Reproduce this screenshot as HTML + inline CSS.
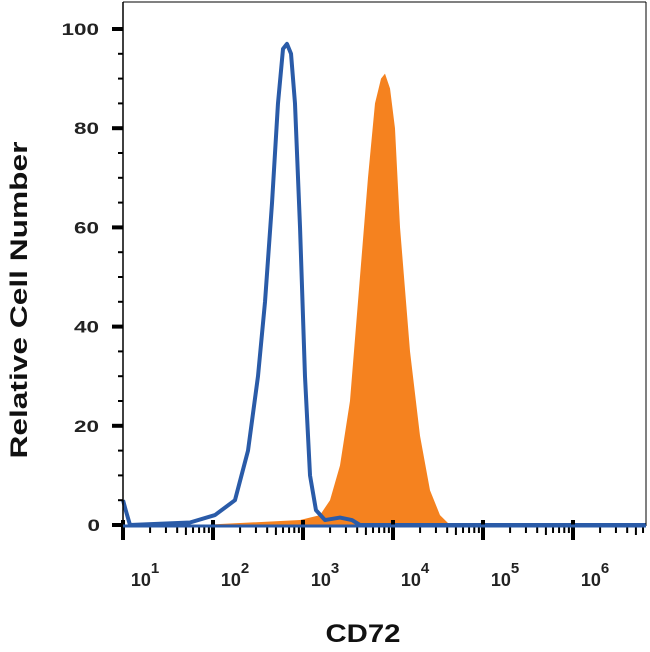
<!DOCTYPE html>
<html><head><meta charset="utf-8"><style>
body{margin:0;background:#fff;}
svg{display:block;font-family:"Liberation Sans",sans-serif;font-weight:bold;}
</style></head><body>
<svg id="c" width="650" height="652"></svg>
<script>
const blueX=[1.0,1.03,1.078,1.744,2.022,2.244,2.389,2.5,2.578,2.656,2.722,2.778,2.822,2.867,2.911,2.967,3.022,3.078,3.144,3.244,3.411,3.544,3.633,6.81];
const blueY=[5,3,0,0.5,2,5,15,30,45,65,85,96,97,95,85,60,30,10,3,1,1.5,1,0,0];
const orangeX=[1.856,2.967,3.189,3.3,3.411,3.522,3.633,3.722,3.8,3.867,3.911,3.967,4.022,4.078,4.189,4.3,4.411,4.522,4.633];
const orangeY=[0,1,2,5,12,25,50,70,85,90,91,88,80,60,35,18,7,2,0];
const yTicks=[0,20,40,60,80,100];
const xDecades=[1,2,3,4,5,6];
const NS='http://www.w3.org/2000/svg';
const svg=document.getElementById('c');
const X0=123,DEC=90,Y0=525,YS=4.96;
const sx=l=>X0+(l-1)*DEC, sy=v=>Y0-v*YS;
function mk(t,a,name){const e=document.createElementNS(NS,t);for(const k in a)e.setAttribute(k,a[k]);


svg.appendChild(e);return e;}
let d='M'+sx(orangeX[0])+','+sy(0);
orangeX.forEach((x,i)=>d+=' L'+sx(x)+','+sy(orangeY[i]));
d+=' L'+sx(orangeX[orangeX.length-1])+','+sy(0)+'Z';
mk('path',{d:d,fill:'#f5821f'},'cd72-stained-histogram');
let b='';blueX.forEach((x,i)=>b+=(i?' L':'M')+sx(x)+','+sy(blueY[i]));
mk('path',{d:b,fill:'none',stroke:'#2a5ba8','stroke-width':4,'stroke-linejoin':'round'},'isotype-control-histogram');
mk('line',{x1:123,y1:2,x2:646,y2:2,stroke:'#000','stroke-width':1},'top-border');
mk('line',{x1:646,y1:2,x2:646,y2:526,stroke:'#000','stroke-width':1},'right-border');
mk('line',{x1:123,y1:2,x2:123,y2:528,stroke:'#000','stroke-width':1.5},'y-axis-line');
for(let v=0;v<=100;v+=5){const maj=v%20===0;
mk('line',{x1:maj?112:118,y1:sy(v),x2:123,y2:sy(v),stroke:'#000','stroke-width':maj?4:2},'y-tick');}
yTicks.forEach(v=>{const s=String(v);const t=mk('text',{x:v===0?100:99,y:sy(v)+6,'text-anchor':'end','font-size':17,fill:'#222',textLength:s.length*12.5,lengthAdjust:'spacingAndGlyphs'},'y-tick-label');t.textContent=s;});
xDecades.forEach(dd=>{mk('line',{x1:sx(dd),y1:520,x2:sx(dd),y2:540,stroke:'#000','stroke-width':4},'x-major-tick');
for(let m=2;m<10;m++){const l=dd+Math.log10(m);if(sx(l)>646)break;
mk('line',{x1:sx(l),y1:526,x2:sx(l),y2:m===5?535:533,stroke:'#000','stroke-width':2},'x-minor-tick');}
const t=mk('text',{x:sx(dd)+22,y:586,'text-anchor':'middle','font-size':18,fill:'#222'},'x-tick-label');
t.innerHTML='10<tspan dy="-13" font-size="15">'+dd+'</tspan>';});
mk('line',{x1:123,y1:526,x2:646,y2:526,stroke:'#2a5ba8','stroke-width':3},'x-baseline');
const xt=mk('text',{x:363,y:642,'text-anchor':'middle','font-size':25,fill:'#111',textLength:75,lengthAdjust:'spacingAndGlyphs'},'x-axis-title');xt.textContent='CD72';
const yt=mk('text',{x:0,y:0,transform:'translate(27,300) rotate(-90)','text-anchor':'middle','font-size':24,fill:'#111',textLength:317,lengthAdjust:'spacingAndGlyphs'},'y-axis-title');yt.textContent='Relative Cell Number';
</script>
</body></html>
